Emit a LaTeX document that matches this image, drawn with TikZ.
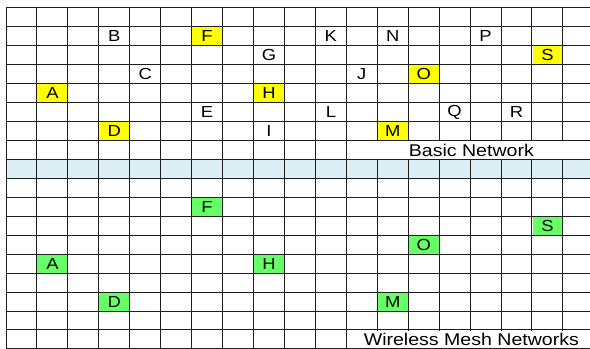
\documentclass[tikz,border=0pt]{standalone}
\usepackage{fontspec}
\setmainfont{Liberation Sans}[FakeStretch=1.15]
\usepackage{tikz}
\definecolor{cBand}{HTML}{DAEEF3}
\definecolor{cSel}{HTML}{FFFF00}
\definecolor{cMesh}{HTML}{66FF66}
\definecolor{cGrid}{HTML}{1F1F1F}

\begin{document}
\begin{tikzpicture}[
  x=30.94pt, y=-18.94pt,
  cell/.style={minimum width=29.9pt, minimum height=17.9pt, inner sep=0pt, font=\fontsize{16}{16}\selectfont},
  sel/.style={cell, fill=cSel},
  mesh/.style={cell, fill=cMesh},
  merged/.style={fill=white, minimum width=246.4pt, minimum height=17.9pt, inner sep=0pt, font=\fontsize{17}{17}\selectfont},
  gridline/.style={cGrid, line width=1pt}
]
\clip (-0.194,-0.422) rectangle (18.875,18.0);
\fill[white] (-0.194,-0.422) rectangle (18.875,18.0);

% divider band between the two networks
\fill[cBand] (0,8) rectangle (19,9);

% the sheet grid
\foreach \c in {0,...,19}
  \draw[gridline] (\c,0) -- (\c,18.5);
\foreach \r in {0,...,18}
  \draw[gridline] (0,\r) -- (19,\r);

% merged caption cells
\node[merged] (basic) at (15.04,7.5) {Basic Network};
\node[merged] (wmn) at (15.04,17.5) {Wireless Mesh Networks};

% plain nodes of the basic network
\foreach \lt/\c/\r in {B/3/1, K/10/1, N/12/1, P/15/1, G/8/2, C/4/3, J/11/3,
                       E/6/5, L/10/5, Q/14/5, R/16/5, I/8/6}
  \node[cell] (b\lt) at (\c+0.5,\r+0.5) {\lt};

% selected nodes, kept in the mesh below
\foreach \lt/\c/\r in {F/6/1, S/17/2, O/13/3, A/1/4, H/8/4, D/3/6, M/12/6} {
  \node[sel] (b\lt) at (\c+0.5,\r+0.5) {\lt};
  \node[mesh] (w\lt) at (\c+0.5,\r+9.5) {\lt};
}
\end{tikzpicture}
\end{document}
